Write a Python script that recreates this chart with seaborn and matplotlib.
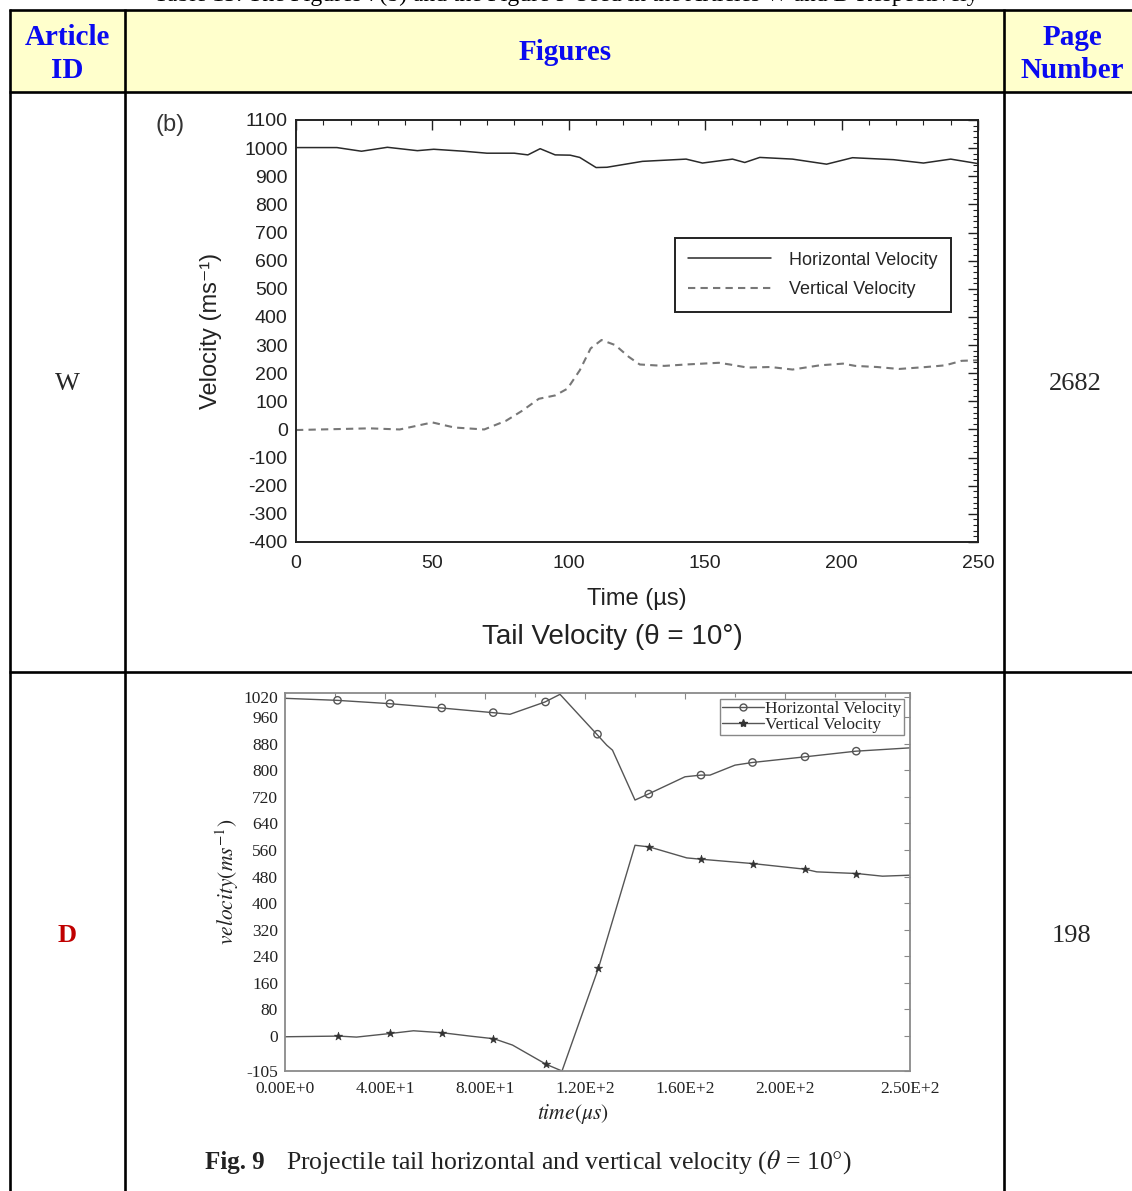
"""
Table with two embedded tail-velocity figures (articles W and D).
"""

import numpy as np
import matplotlib
matplotlib.use("Agg")
import matplotlib.pyplot as plt
from matplotlib.lines import Line2D
from matplotlib.patches import Rectangle
from matplotlib.ticker import MultipleLocator, FixedLocator
import seaborn as sns

# ---- table content ----
TABLE_TITLE = "Table 15: The Figures 7(b) and the Figure 9 Used in the Articles W and D Respectively"
HEADERS = ["Article\nID", "Figures", "Page\nNumber"]
ARTICLE_IDS = ["W", "D"]
PAGE_NUMBERS = ["2682", "198"]

# ---- figure W: tail velocity, time in microseconds ----
W_H_TIME = [0, 15, 24, 33.5, 44.5, 50.5, 61.5, 70, 80, 85, 89.5, 95, 100.5, 104, 110,
            114, 127, 143, 149, 160, 164.5, 170, 182, 194.5, 204, 219, 230, 240, 250]
W_H_VEL = [1002, 1002, 989, 1003, 991, 996, 989, 982, 982, 976, 998, 976, 975, 967, 931,
           932, 953, 961, 947, 961, 949, 967, 961, 943, 966, 959, 947, 961, 945]
W_V_TIME = [0, 27, 38, 50, 58, 69, 77, 83, 89, 95, 99.5, 104, 108, 112, 117, 122, 126,
            135, 143, 155, 159, 165.5, 174, 182, 192, 200.5, 205, 213, 221, 231, 238, 244, 250]
W_V_VEL = [-2, 4, 0, 25, 7, 0, 31, 67, 109, 121, 145, 210, 288, 318, 300, 258, 231,
           226, 231, 237, 231, 220, 222, 213, 228, 234, 226, 222, 215, 222, 228, 244, 246]
W_LABELS = ["Horizontal Velocity", "Vertical Velocity"]

# ---- figure D: Fig. 9 ----
D_H_TIME = [0, 20.7, 41.7, 62.4, 83, 90, 104, 110, 124.7, 128.7, 131, 140, 145.3,
            160, 166.4, 170, 180, 187, 208, 228.4, 250]
D_H_VEL = [1016, 1010, 1000, 987, 973, 968, 1005, 1028, 908, 875, 860, 710, 728,
           780, 785, 785, 815, 823, 840, 857, 867]
D_V_TIME = [0, 21.4, 28.6, 42.3, 51.4, 63, 74, 83.6, 91, 104.5, 110.8, 125.4, 140,
            145.7, 160.7, 166.4, 187, 208, 212.7, 228.7, 239, 250]
D_V_VEL = [-2, 0, -3, 8, 16, 10, 0, -8, -27, -85, -105, 205, 574,
           569, 536, 532, 519, 502, 494, 489, 481, 484]
D_MARK_TIME = [21, 42, 62.7, 83.3, 104.2, 125, 145.5, 166.4, 187, 208, 228.5]
D_H_MARK_VEL = [1010, 1000, 987, 973, 1005, 908, 728, 785, 823, 840, 857]
D_V_MARK_VEL = [0, 8, 10, -8, -85, 205, 569, 532, 519, 502, 489]
D_YTICKS = [-105, 0, 80, 160, 240, 320, 400, 480, 560, 640, 720, 800, 880, 960, 1020]
D_XTICKS = [0, 40, 80, 120, 160, 200, 250]
D_XTICK_LABELS = ["0.00E+0", "4.00E+1", "8.00E+1", "1.20E+2", "1.60E+2", "2.00E+2", "2.50E+2"]
D_LABELS = ["Horizontal Velocity", "Vertical Velocity"]

FIG_W, FIG_H = 1132, 1191
SANS = ["Liberation Sans", "DejaVu Sans"]
SERIF = ["Liberation Serif", "DejaVu Serif"]


def px_axes(fig, left, top, right, bottom):
    """Axes placed with pixel coordinates measured from the top-left corner."""
    return fig.add_axes([left / FIG_W, 1 - bottom / FIG_H,
                         (right - left) / FIG_W, (bottom - top) / FIG_H])


def main():
    sns.set_theme(style="white")
    plt.rcParams["font.family"] = SERIF
    plt.rcParams["mathtext.fontset"] = "stix"
    plt.rcParams["axes.unicode_minus"] = False

    fig = plt.figure(figsize=(FIG_W / 100, FIG_H / 100), dpi=100)

    # table grid in pixel coordinates
    bg = fig.add_axes([0, 0, 1, 1], zorder=0)
    bg.set_xlim(0, FIG_W)
    bg.set_ylim(FIG_H, 0)
    bg.axis("off")
    bg.add_patch(Rectangle((10, 10), FIG_W - 10, 82, facecolor="#FFFFCC", edgecolor="none"))
    for y in [10, 92, 672]:
        bg.plot([9, FIG_W], [y, y], color="black", lw=1.9, solid_capstyle="butt")
    for x in [10, 125, 1004]:
        bg.plot([x, x], [9, FIG_H], color="black", lw=1.9, solid_capstyle="butt")

    bg.text(566, -5, TABLE_TITLE, ha="center", va="center", fontsize=17, color="black")
    head_font = dict(fontsize=21, fontweight="bold", color="#0A0AF0", ha="center",
                     va="center", linespacing=1.3)
    bg.text(67, 54, HEADERS[0], **head_font)
    bg.text(565, 53, HEADERS[1], **head_font)
    bg.text(1072, 54, HEADERS[2], **head_font)
    bg.text(67, 384, ARTICLE_IDS[0], fontsize=19, ha="center", va="center")
    bg.text(1075, 384, PAGE_NUMBERS[0], fontsize=19, ha="center", va="center")
    bg.text(67, 936, ARTICLE_IDS[1], fontsize=19, fontweight="bold", color="#C00000",
            ha="center", va="center")
    bg.text(1072, 936, PAGE_NUMBERS[1], fontsize=19, ha="center", va="center")

    # ---- figure W ----
    ax1 = px_axes(fig, 296, 120, 978, 542)
    ax1.set_zorder(2)
    sns.lineplot(x=W_H_TIME, y=W_H_VEL, ax=ax1, color="#2a2a2a", lw=1.1,
                 label=W_LABELS[0], legend=False)
    sns.lineplot(x=W_V_TIME, y=W_V_VEL, ax=ax1, color="#777777", lw=1.5,
                 linestyle=(0, (3.5, 2.5)), label=W_LABELS[1], legend=False)
    ax1.set_xlim(0, 250)
    ax1.set_ylim(-400, 1100)
    ax1.xaxis.set_major_locator(MultipleLocator(50))
    ax1.xaxis.set_minor_locator(MultipleLocator(10))
    ax1.yaxis.set_major_locator(MultipleLocator(100))
    ax1.yaxis.set_minor_locator(MultipleLocator(20))
    ax1.tick_params(which="both", direction="in", top=True, right=True,
                    colors="#222222", labelsize=14, width=1.0)
    ax1.tick_params(which="major", length=7)
    ax1.tick_params(which="minor", length=3.5, width=0.8)
    for lab in ax1.get_xticklabels() + ax1.get_yticklabels():
        lab.set_family(SANS)
    ax1.tick_params(axis="x", pad=9)
    ax1.tick_params(axis="y", pad=6)
    for sp in ax1.spines.values():
        sp.set_color("#222222")
        sp.set_linewidth(1.4)
    ax1.set_xlabel("Time (\u00b5s)", family=SANS, fontsize=17, labelpad=12, color="#222222")
    ax1.set_ylabel("Velocity (ms\u207b\u00b9)", family=SANS, fontsize=17, labelpad=16,
                   color="#222222")
    leg1 = ax1.legend(handles=ax1.get_lines(), labels=W_LABELS, loc="upper right",
                      bbox_to_anchor=(0.961, 0.72), borderaxespad=0,
                      prop={"family": SANS, "size": 13},
                      handlelength=4.6, handletextpad=1.0, labelspacing=0.7,
                      borderpad=0.75, fancybox=False, framealpha=1)
    leg1.get_frame().set_edgecolor("#222222")
    leg1.get_frame().set_linewidth(1.4)
    fig.text(170 / FIG_W, 1 - 125 / FIG_H, "(b)", family=SANS, fontsize=17,
             ha="center", va="center", color="#333333")
    fig.text(612 / FIG_W, 1 - 637 / FIG_H, "Tail Velocity (\u03b8 = 10\u00b0)", family=SANS,
             fontsize=20, ha="center", va="center", color="#222222")

    # ---- figure D ----
    grey = "#555555"
    ax2 = px_axes(fig, 285, 693, 910, 1071)
    ax2.set_zorder(2)
    sns.lineplot(x=D_H_TIME, y=D_H_VEL, ax=ax2, color=grey, lw=1.0, legend=False)
    sns.lineplot(x=D_V_TIME, y=D_V_VEL, ax=ax2, color=grey, lw=1.0, legend=False)
    sns.scatterplot(x=D_MARK_TIME, y=D_H_MARK_VEL, ax=ax2, marker="o", s=28,
                    facecolor="none", edgecolor=grey, linewidth=1.0, legend=False, zorder=3)
    sns.scatterplot(x=D_MARK_TIME, y=D_V_MARK_VEL, ax=ax2, marker="*", s=40,
                    color="#333333", edgecolor="#333333", linewidth=0.4, legend=False, zorder=3)
    ax2.set_xlim(0, 250)
    ax2.set_ylim(-105, 1032)
    ax2.xaxis.set_major_locator(FixedLocator(D_XTICKS))
    ax2.set_xticklabels(D_XTICK_LABELS)
    ax2.xaxis.set_minor_locator(MultipleLocator(20))
    ax2.yaxis.set_major_locator(FixedLocator(D_YTICKS))
    ax2.set_yticklabels([str(v) for v in D_YTICKS])
    ax2.tick_params(which="both", direction="in", top=True, right=True,
                    colors="#888888", labelcolor="#222222", labelsize=12.5, width=0.8)
    ax2.tick_params(which="major", length=4, pad=5)
    ax2.tick_params(axis="x", which="major", pad=7)
    ax2.tick_params(which="minor", length=3)
    for sp in ax2.spines.values():
        sp.set_color("#8a8a8a")
        sp.set_linewidth(1.3)
    ax2.set_xlabel(r"$time(\mu s)$", fontsize=15.5, labelpad=4, color="#222222")
    ax2.xaxis.set_label_coords(0.46, -0.083)
    ax2.set_ylabel(r"$velocity(ms^{-1})$", fontsize=15.5, labelpad=2, color="#222222")
    handles = [Line2D([], [], color=grey, lw=1.0, marker="o", mfc="none", mec=grey, ms=5),
               Line2D([], [], color=grey, lw=1.0, marker="*", mfc="#333333", mec="#333333", ms=6)]
    leg2 = ax2.legend(handles=handles, labels=D_LABELS, loc="upper right",
                      bbox_to_anchor=(0.993, 0.99), fontsize=12.5, handlelength=2.4,
                      handletextpad=0.1, labelspacing=0.0, borderpad=0.12,
                      borderaxespad=0.1, fancybox=False, framealpha=1)
    leg2.get_frame().set_edgecolor("#888888")
    leg2.get_frame().set_linewidth(1.0)

    fig.text(205 / FIG_W, 1 - 1162 / FIG_H, "Fig. 9", fontsize=18, fontweight="bold",
             ha="left", va="center", color="#222222")
    fig.text(286 / FIG_W, 1 - 1162 / FIG_H,
             r"Projectile tail horizontal and vertical velocity ($\theta$ = 10$\degree$)",
             fontsize=18.5, ha="left", va="center", color="#222222")

    fig.savefig("out.png", dpi=100)
    plt.close(fig)


if __name__ == "__main__":
    main()
